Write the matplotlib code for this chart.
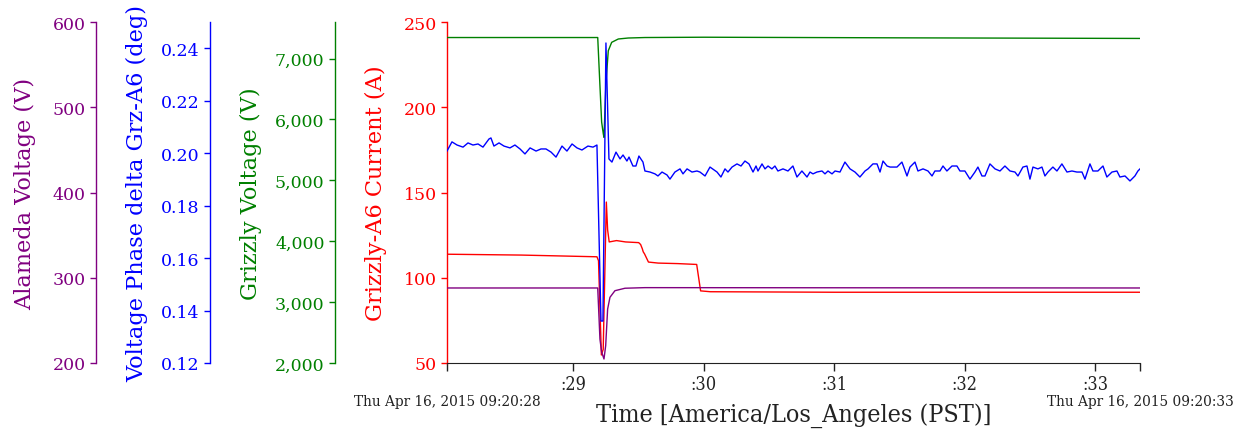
## MULTI-AXIS TIME SERIES: GRIZZLY / ALAMEDA EVENT

import matplotlib
matplotlib.use("Agg")
import matplotlib.pyplot as plt
import matplotlib.ticker as mticker
import numpy as np

# time in seconds after 09:20:00
t_start = 28.03
t_end = 33.345

# Grizzly-A6 current (A)
red_t = [28.03, 28.60, 29.18, 29.192, 29.214, 29.228, 29.252, 29.262, 29.274, 29.33, 29.40, 29.50,
         29.515, 29.528, 29.535, 29.545, 29.575, 29.65, 29.80, 29.945, 29.975, 30.05, 31.0, 33.345]
red_v = [113.8, 113.3, 112.3, 110.0, 54.7, 58.0, 144.4, 128.0, 121.0, 121.8, 121.0, 120.6,
         119.5, 117.0, 115.2, 114.0, 109.2, 108.6, 108.3, 107.8, 92.3, 91.8, 91.5, 91.5]

# Grizzly voltage (V)
green_t = [28.03, 29.186, 29.203, 29.216, 29.229, 29.234, 29.249, 29.267, 29.293, 29.344, 29.42,
           29.548, 30.0, 31.5, 33.345]
green_v = [7345, 7345, 6553, 5957, 5760, 5706, 6600, 7128, 7266, 7321, 7337,
           7345, 7350, 7340, 7330]

# Alameda voltage (V)
purple_t = [28.03, 29.186, 29.203, 29.216, 29.234, 29.247, 29.262, 29.28, 29.318, 29.395,
            29.548, 33.345]
purple_v = [288.0, 288.0, 228.0, 212.9, 204.7, 220.3, 263.3, 277.1, 284.8, 287.7,
            288.4, 288.0]

# Voltage phase delta Grz-A6 (deg)
blue_t = [28.030, 28.068, 28.107, 28.153, 28.191, 28.229, 28.268, 28.306, 28.352, 28.367,
          28.390, 28.429, 28.467, 28.513, 28.551, 28.590, 28.628, 28.667, 28.713, 28.751,
          28.789, 28.828, 28.866, 28.912, 28.950, 28.989, 29.027, 29.065, 29.111, 29.150,
          29.180, 29.211, 29.226, 29.249, 29.272, 29.295, 29.326, 29.357, 29.380, 29.410,
          29.426, 29.456, 29.479, 29.502, 29.533, 29.548, 29.587, 29.625, 29.648, 29.679,
          29.717, 29.740, 29.778, 29.817, 29.840, 29.871, 29.909, 29.947, 29.970, 30.009,
          30.047, 30.101, 30.131, 30.162, 30.185, 30.216, 30.254, 30.285, 30.315, 30.346,
          30.377, 30.400, 30.415, 30.446, 30.469, 30.492, 30.522, 30.545, 30.568, 30.607,
          30.645, 30.683, 30.714, 30.752, 30.791, 30.814, 30.837, 30.867, 30.906, 30.929,
          30.952, 30.983, 31.006, 31.044, 31.082, 31.121, 31.159, 31.197, 31.236, 31.259,
          31.297, 31.328, 31.351, 31.374, 31.405, 31.428, 31.481, 31.519, 31.558, 31.581,
          31.619, 31.642, 31.681, 31.719, 31.750, 31.772, 31.811, 31.834, 31.864, 31.903,
          31.941, 31.964, 32.002, 32.041, 32.079, 32.102, 32.133, 32.156, 32.194, 32.233,
          32.271, 32.309, 32.348, 32.386, 32.409, 32.447, 32.478, 32.501, 32.524, 32.562,
          32.593, 32.616, 32.639, 32.677, 32.708, 32.746, 32.785, 32.823, 32.861, 32.900,
          32.923, 32.961, 32.984, 33.022, 33.061, 33.091, 33.130, 33.168, 33.191, 33.230,
          33.268, 33.306, 33.329, 33.345]
blue_v = [0.2008, 0.2043, 0.2031, 0.2023, 0.2039, 0.2031, 0.2035, 0.2023, 0.2054, 0.2058,
          0.2027, 0.2039, 0.2027, 0.2020, 0.2031, 0.2016, 0.1997, 0.2020, 0.2008, 0.2016,
          0.2016, 0.2004, 0.1985, 0.2027, 0.2008, 0.2035, 0.2020, 0.2012, 0.2027, 0.2023,
          0.2031, 0.1360, 0.1360, 0.2420, 0.1978, 0.1966, 0.2004, 0.1978, 0.1993, 0.1970,
          0.1985, 0.1951, 0.1951, 0.1989, 0.1966, 0.1932, 0.1928, 0.1921, 0.1913, 0.1928,
          0.1917, 0.1901, 0.1928, 0.1940, 0.1921, 0.1940, 0.1928, 0.1932, 0.1928, 0.1913,
          0.1947, 0.1928, 0.1909, 0.1940, 0.1928, 0.1947, 0.1959, 0.1951, 0.1970, 0.1959,
          0.1928, 0.1951, 0.1932, 0.1959, 0.1940, 0.1951, 0.1940, 0.1951, 0.1932, 0.1940,
          0.1932, 0.1951, 0.1909, 0.1932, 0.1909, 0.1928, 0.1921, 0.1928, 0.1932, 0.1921,
          0.1932, 0.1921, 0.1932, 0.1928, 0.1966, 0.1940, 0.1928, 0.1909, 0.1932, 0.1940,
          0.1959, 0.1959, 0.1928, 0.1970, 0.1951, 0.1947, 0.1947, 0.1966, 0.1913, 0.1947,
          0.1966, 0.1932, 0.1940, 0.1932, 0.1913, 0.1932, 0.1932, 0.1951, 0.1932, 0.1951,
          0.1951, 0.1932, 0.1932, 0.1901, 0.1928, 0.1947, 0.1913, 0.1913, 0.1959, 0.1940,
          0.1932, 0.1951, 0.1932, 0.1928, 0.1913, 0.1947, 0.1951, 0.1901, 0.1947, 0.1940,
          0.1947, 0.1913, 0.1928, 0.1947, 0.1932, 0.1959, 0.1928, 0.1932, 0.1928, 0.1928,
          0.1901, 0.1959, 0.1932, 0.1932, 0.1951, 0.1909, 0.1928, 0.1932, 0.1909, 0.1913,
          0.1894, 0.1913, 0.1932, 0.1940]

major_secs = [29, 30, 31, 32, 33]
end_labels = ["Thu Apr 16, 2015 09:20:28", "Thu Apr 16, 2015 09:20:33"]

RED = "#ff0000"
GREEN = "#008000"
BLUE = "#0000ff"
PURPLE = "#800080"

plt.rcParams["font.family"] = ["DejaVu Serif"]

fig = plt.figure(figsize=(12.43, 4.31), dpi=100)
ax = fig.add_axes([447/1243, 1 - 364/431, 693/1243, 341/431])   # host axes = current

def setup_left(a, color, pos, lims, ticks, fmt, label, pad):
    a.set_ylim(*lims)
    a.set_yticks(ticks)
    a.yaxis.set_major_formatter(fmt)
    a.yaxis.tick_left()
    a.yaxis.set_label_position("left")
    for s in ["top", "right", "bottom"]:
        a.spines[s].set_visible(False)
    a.spines["left"].set_position(("axes", pos))
    a.spines["left"].set_color(color)
    a.spines["left"].set_linewidth(1.0)
    a.tick_params(axis="y", colors=color, labelsize=12.5, length=4.5, width=1.0, pad=3)
    a.set_ylabel(label, color=color, fontsize=16.2, labelpad=pad)

# red (host)
ax.plot(red_t, red_v, color=RED, lw=1.0)
setup_left(ax, RED, 0.0, (50, 250), [50, 100, 150, 200, 250],
           mticker.FormatStrFormatter("%d"), "Grizzly-A6 Current (A)", 12)
ax.spines["bottom"].set_visible(True)
ax.spines["bottom"].set_color("#222222")
ax.patch.set_alpha(0)

# purple
ax_p = ax.twinx()
ax_p.plot(purple_t, purple_v, color=PURPLE, lw=1.0)
setup_left(ax_p, PURPLE, -351/693, (200, 600), [200, 300, 400, 500, 600],
           mticker.FormatStrFormatter("%d"), "Alameda Voltage (V)", 12)

# green
ax_g = ax.twinx()
ax_g.plot(green_t, green_v, color=GREEN, lw=1.0)
setup_left(ax_g, GREEN, -112/693, (2000, 7600), [2000, 3000, 4000, 5000, 6000, 7000],
           mticker.FuncFormatter(lambda v, p: "{:,.0f}".format(v)), "Grizzly Voltage (V)", 9)

# blue
ax_b = ax.twinx()
ax_b.plot(blue_t, blue_v, color=BLUE, lw=1.0)
setup_left(ax_b, BLUE, -237/693, (0.12, 0.25), [0.12, 0.14, 0.16, 0.18, 0.20, 0.22, 0.24],
           mticker.FormatStrFormatter("%.2f"), "Voltage Phase delta Grz-A6 (deg)", 9)

# time axis
ax.set_xlim(t_start, t_end)
ax.set_xticks(major_secs)
ax.set_xticklabels([":%d" % s for s in major_secs], fontstretch="condensed", fontsize=13)
ax.set_xticks([t_start, t_end], minor=True)
ax.set_xticklabels(end_labels, minor=True, fontstretch="condensed", fontsize=11)
ax.tick_params(axis="x", which="major", length=6, width=1.0, colors="#222222", pad=3)
ax.tick_params(axis="x", which="minor", length=6, width=1.0, colors="#222222", pad=16)
ax.set_xlabel("Time [America/Los_Angeles (PST)]", fontsize=18, fontstretch="condensed",
              color="#222222", labelpad=-4)

fig.savefig("out.png", dpi=100)
